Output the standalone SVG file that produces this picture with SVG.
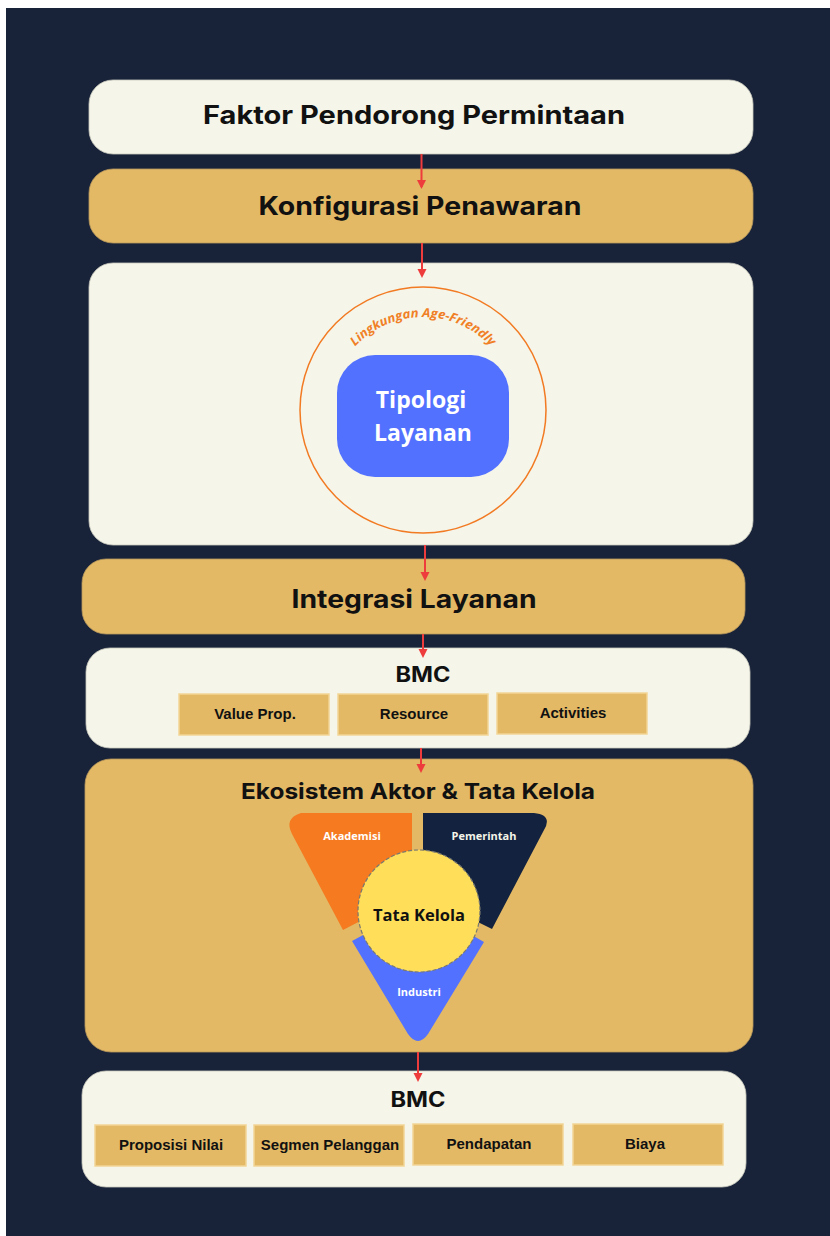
<svg xmlns="http://www.w3.org/2000/svg" width="830" height="1236" viewBox="0 0 830 1236">
  <style>
    .cream { fill: #F5F5E9; stroke: #C9C9BC; stroke-width: 0.8; }
    .gold { fill: #E3B966; stroke: #B8975A; stroke-width: 0.8; }
    .cell { fill: #E3B966; stroke: #F2D595; stroke-width: 1.5; }
    .title { font-family: Inter, "Liberation Sans", sans-serif; font-weight: 700; fill: #111111; text-anchor: middle; }
    .cellText { font-family: "Liberation Sans", Arial, sans-serif; font-weight: 700; font-size: 15px; fill: #111111; text-anchor: middle; }
    .round { font-family: "Open Sans", "Noto Sans", sans-serif; font-weight: 700; text-anchor: middle; }
    .flow { stroke: #EE3B3B; stroke-width: 2; fill: none; marker-end: url(#head); }
  </style>
  <defs>
    <marker id="head" markerUnits="userSpaceOnUse" markerWidth="9" markerHeight="10" refX="7" refY="4.5" orient="auto">
      <path d="M0,0 L9,4.5 L0,9 Z" fill="#EE3B3B"/>
    </marker>
    <path id="arcText" d="M 330,410 A 93,93 0 0 1 516,410"/>
  </defs>

  <!-- page -->
  <rect x="0" y="0" width="830" height="1236" fill="#FFFFFF"/>
  <rect x="6" y="8" width="824" height="1228" fill="#18233A"/>

  <!-- demand drivers -->
  <g id="faktor">
    <rect class="cream" x="89" y="80" width="664" height="74" rx="24"/>
    <text class="title" x="414" y="124" font-size="25" textLength="422" lengthAdjust="spacingAndGlyphs">Faktor Pendorong Permintaan</text>
  </g>

  <!-- offer configuration -->
  <g id="konfigurasi">
    <rect class="gold" x="89" y="169" width="664" height="74" rx="24"/>
    <text class="title" x="420" y="215" font-size="25" textLength="323" lengthAdjust="spacingAndGlyphs">Konfigurasi Penawaran</text>
  </g>

  <!-- service typology within the age-friendly environment -->
  <g id="tipologi">
    <rect class="cream" x="89" y="263" width="664" height="282" rx="24"/>
    <circle cx="423" cy="410" r="123" fill="none" stroke="#F27A22" stroke-width="1.5"/>
    <text class="round" font-size="12.5" font-style="italic" fill="#F07F26">
      <textPath href="#arcText" startOffset="50%" textLength="152" lengthAdjust="spacingAndGlyphs">Lingkungan Age-Friendly</textPath>
    </text>
    <rect x="337" y="355" width="172" height="122" rx="38" fill="#5271FF"/>
    <text class="round" x="421" y="408" font-size="23" fill="#FFFFFF">Tipologi</text>
    <text class="round" x="423" y="441" font-size="23" fill="#FFFFFF">Layanan</text>
  </g>

  <!-- service integration -->
  <g id="integrasi">
    <rect class="gold" x="82" y="559" width="663" height="75" rx="24"/>
    <text class="title" x="414" y="608" font-size="25" textLength="245" lengthAdjust="spacingAndGlyphs">Integrasi Layanan</text>
  </g>

  <!-- first business model canvas -->
  <g id="bmc-1">
    <rect class="cream" x="86" y="648" width="664" height="100" rx="24"/>
    <text class="title" x="423" y="682" font-size="21" textLength="55" lengthAdjust="spacingAndGlyphs">BMC</text>
    <rect class="cell" x="179" y="694" width="150" height="41"/>
    <text class="cellText" x="255" y="719">Value Prop.</text>
    <rect class="cell" x="338" y="694" width="150" height="41"/>
    <text class="cellText" x="414" y="719">Resource</text>
    <rect class="cell" x="497" y="693" width="150" height="41"/>
    <text class="cellText" x="573" y="718">Activities</text>
  </g>

  <!-- actor ecosystem and governance -->
  <g id="ekosistem">
    <rect class="gold" x="85" y="759" width="668" height="293" rx="26"/>
    <text class="title" x="418" y="799" font-size="22" textLength="354" lengthAdjust="spacingAndGlyphs">Ekosistem Aktor &amp; Tata Kelola</text>
  </g>

  <g id="akademisi">
    <path d="M 301,813 L 412,813 L 412,892 L 420,890 L 343,930 L 292,834 Q 284,818 301,813 Z" fill="#F57A20"/>
    <text class="round" x="352" y="840" font-size="11" fill="#FFFFFF">Akademisi</text>
  </g>

  <g id="pemerintah">
    <path d="M 423,813 L 534,813 Q 553,815 544,830 L 492,929 L 423,895 Z" fill="#13233F"/>
    <text class="round" x="484" y="840" font-size="11" fill="#F5F5E9">Pemerintah</text>
  </g>

  <g id="industri">
    <path d="M 352,941 L 419,905 L 484,942 L 428,1034 Q 418,1048 408,1034 Z" fill="#5271FF"/>
    <text class="round" x="419" y="996" font-size="11" fill="#FFFFFF">Industri</text>
  </g>

  <g id="tata-kelola">
    <circle cx="419" cy="911" r="61" fill="#FFDE59" stroke="#7A7A70" stroke-width="1.2" stroke-dasharray="4 2"/>
    <text class="round" x="419" y="921" font-size="16.5" fill="#111111">Tata Kelola</text>
  </g>

  <!-- second business model canvas -->
  <g id="bmc-2">
    <rect class="cream" x="82" y="1071" width="664" height="116" rx="24"/>
    <text class="title" x="418" y="1107" font-size="21" textLength="55" lengthAdjust="spacingAndGlyphs">BMC</text>
    <rect class="cell" x="95" y="1125" width="151" height="41"/>
    <text class="cellText" x="171" y="1150">Proposisi Nilai</text>
    <rect class="cell" x="254" y="1125" width="150" height="41"/>
    <text class="cellText" x="330" y="1150">Segmen Pelanggan</text>
    <rect class="cell" x="413" y="1124" width="150" height="41"/>
    <text class="cellText" x="489" y="1149">Pendapatan</text>
    <rect class="cell" x="573" y="1124" width="150" height="41"/>
    <text class="cellText" x="645" y="1149">Biaya</text>
  </g>

  <!-- flow connectors -->
  <g id="connectors">
    <line class="flow" x1="421.5" y1="154" x2="421.5" y2="187"/>
    <line class="flow" x1="422" y1="243" x2="422" y2="276"/>
    <line class="flow" x1="425" y1="545" x2="425" y2="579"/>
    <line class="flow" x1="423" y1="634" x2="423" y2="656"/>
    <line class="flow" x1="421" y1="748" x2="421" y2="771"/>
    <line class="flow" x1="418" y1="1052" x2="418" y2="1080"/>
  </g>
</svg>
